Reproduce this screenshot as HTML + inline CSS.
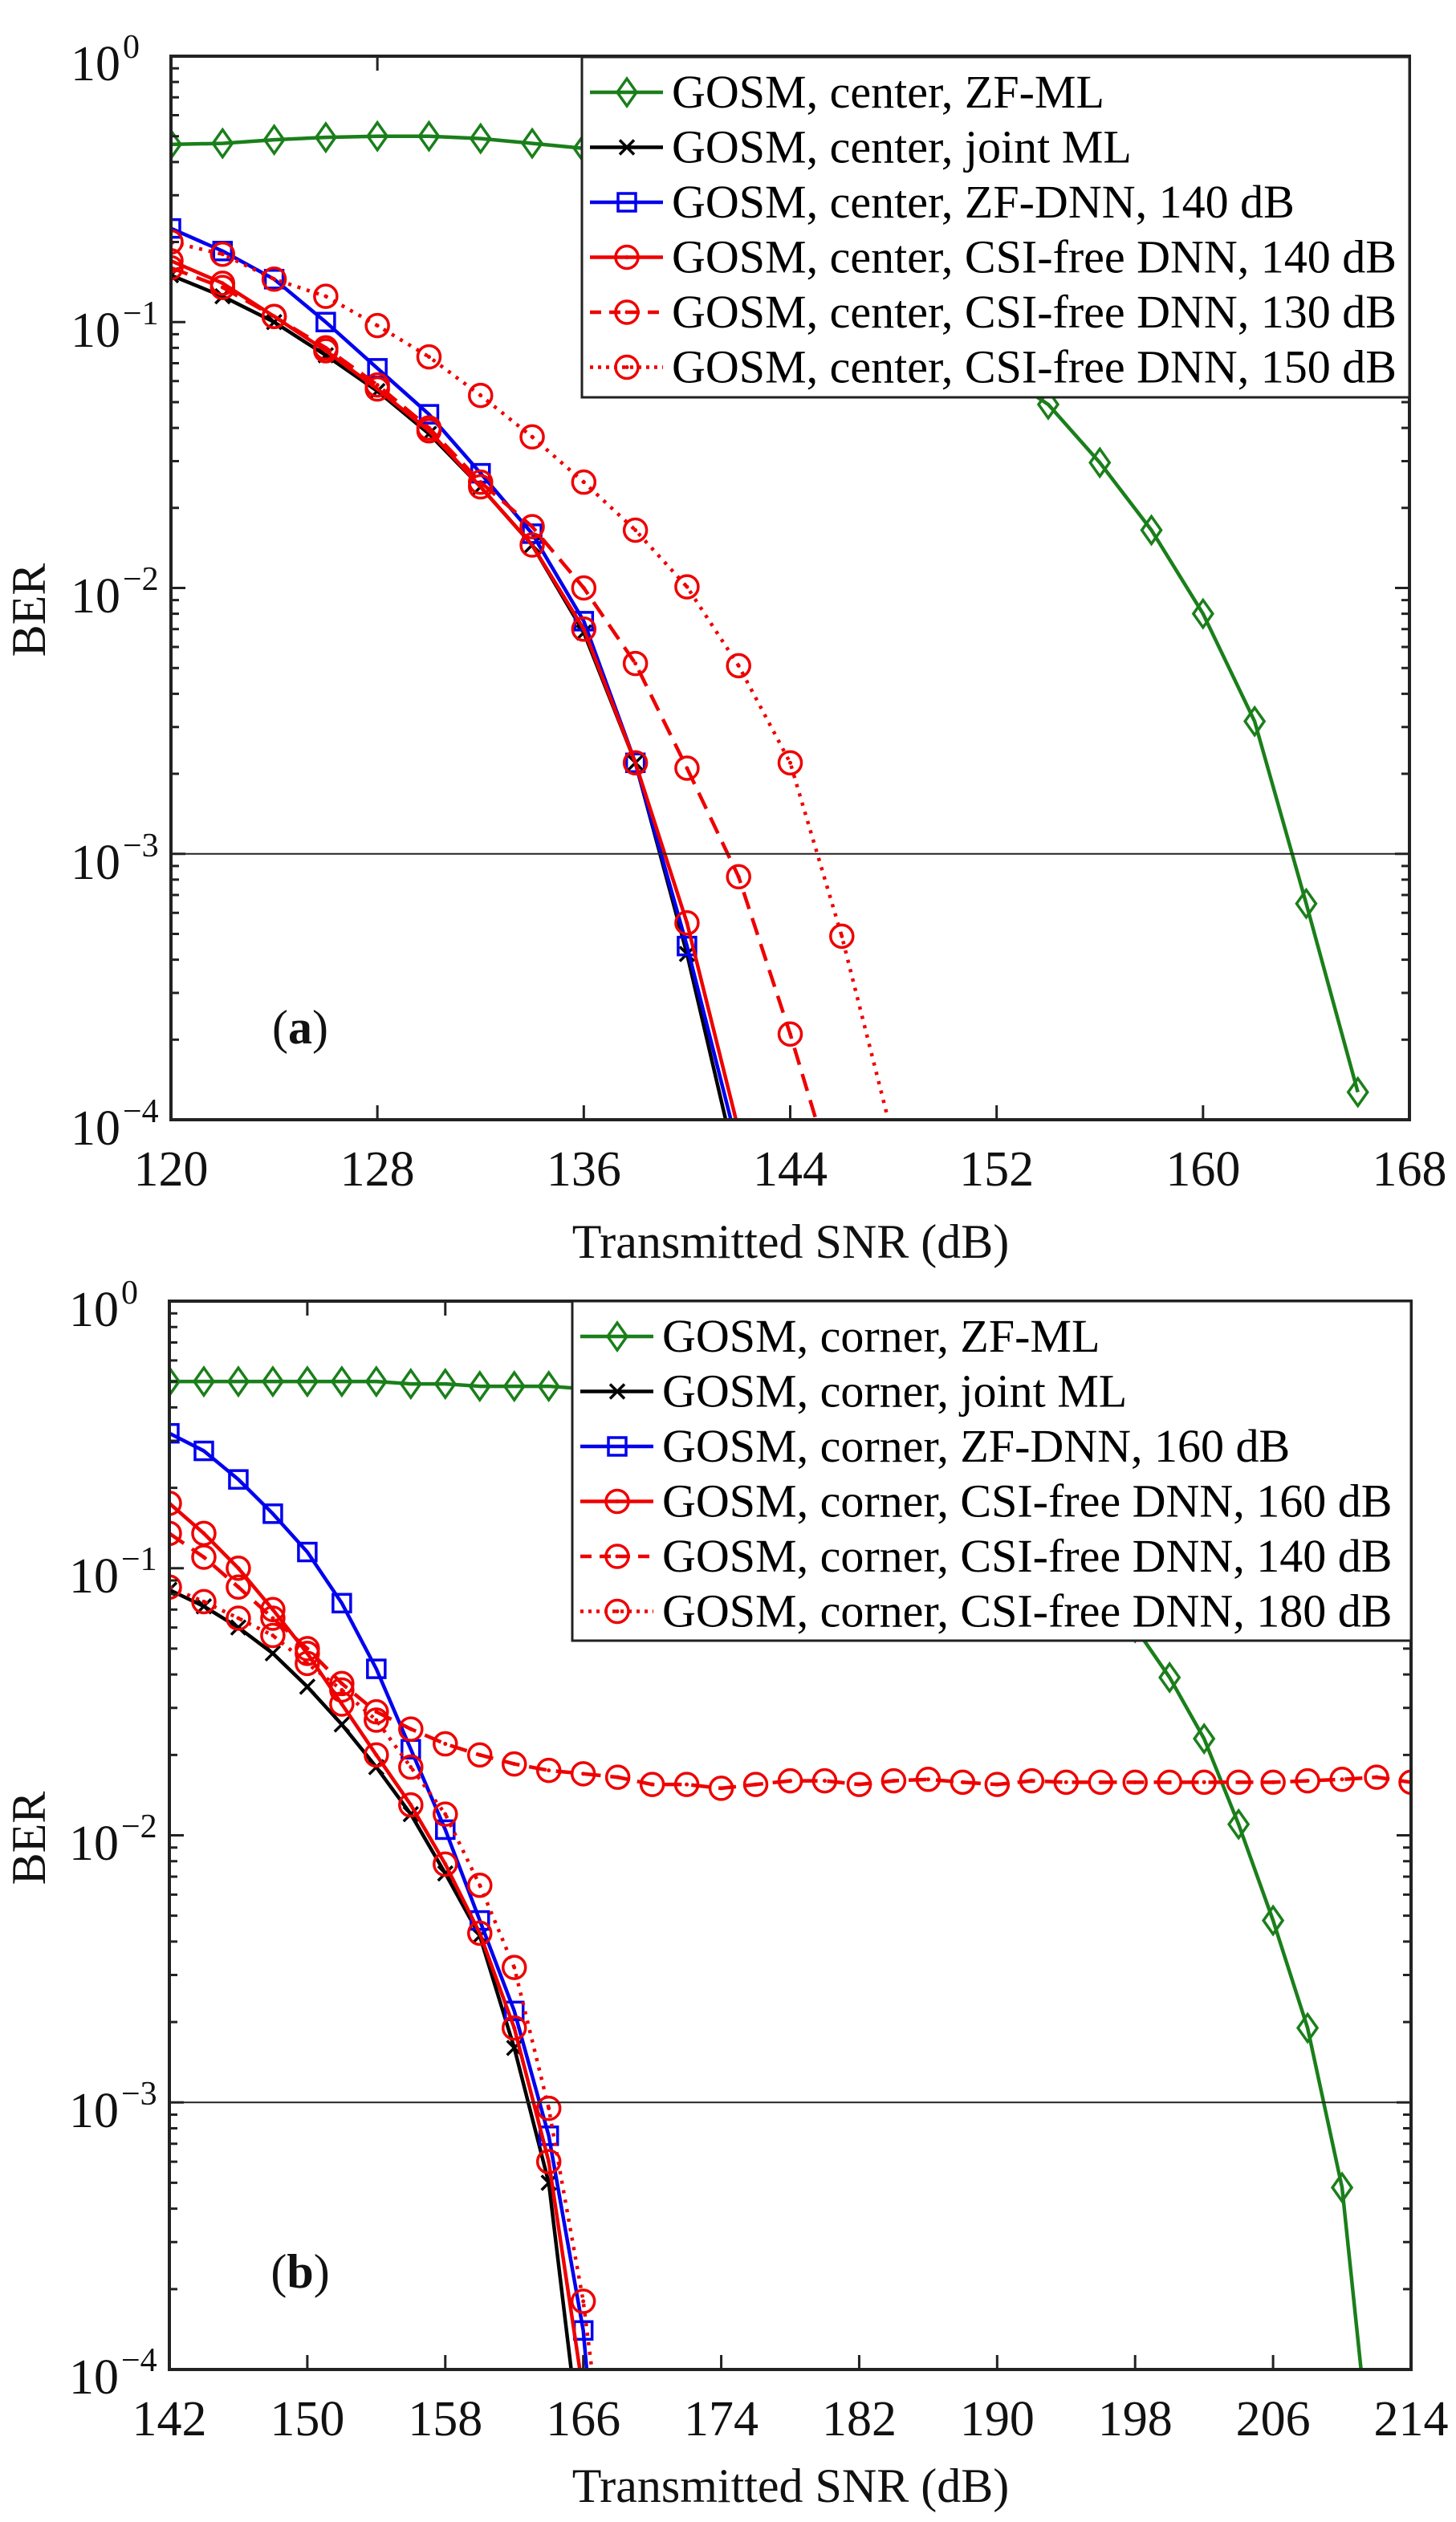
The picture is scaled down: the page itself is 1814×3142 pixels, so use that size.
<!DOCTYPE html>
<html><head><meta charset="utf-8"><style>
html,body{margin:0;padding:0;background:#fff;font-family:"Liberation Serif",serif;}
svg{display:block;}
text{font-family:"Liberation Serif","Times New Roman",serif;}
</style></head><body>
<svg id="s" width="1814" height="3142" viewBox="0 0 1814 3142" xmlns="http://www.w3.org/2000/svg" font-family="Liberation Serif, Times New Roman, serif">
<rect width="1814" height="3142" fill="#fff"/>
<defs>
<clipPath id="c1"><rect x="213" y="70" width="1543" height="1325"/></clipPath>
<clipPath id="c2"><rect x="211" y="1621" width="1547" height="1331"/></clipPath>
</defs>
<g id="g1" clip-path="url(#c1)"></g>
<g id="g2" clip-path="url(#c2)"></g>
<g id="ax"></g>
<g font-size="62" fill="#111">
<text x="150" y="100" text-anchor="end">10</text><text x="153" y="72" font-size="42">0</text>
<text x="150" y="432" text-anchor="end">10</text><text x="153" y="404" font-size="42">−1</text>
<text x="150" y="763" text-anchor="end">10</text><text x="153" y="735" font-size="42">−2</text>
<text x="150" y="1095" text-anchor="end">10</text><text x="153" y="1067" font-size="42">−3</text>
<text x="150" y="1426" text-anchor="end">10</text><text x="153" y="1398" font-size="42">−4</text>
</g>
<g font-size="62" fill="#111">
<text x="148" y="1652" text-anchor="end">10</text><text x="151" y="1624" font-size="42">0</text>
<text x="148" y="1984" text-anchor="end">10</text><text x="151" y="1956" font-size="42">−1</text>
<text x="148" y="2317" text-anchor="end">10</text><text x="151" y="2289" font-size="42">−2</text>
<text x="148" y="2650" text-anchor="end">10</text><text x="151" y="2622" font-size="42">−3</text>
<text x="148" y="2982" text-anchor="end">10</text><text x="151" y="2954" font-size="42">−4</text>
</g>
<g font-size="62" fill="#111" text-anchor="middle" id="xl"></g>
<g font-size="60" fill="#111" text-anchor="middle">
<text x="985" y="1567">Transmitted SNR (dB)</text>
<text x="985" y="3117">Transmitted SNR (dB)</text>
<text transform="translate(56,760) rotate(-90)">BER</text>
<text transform="translate(56,2290) rotate(-90)">BER</text>
<text x="374" y="1300">(<tspan font-weight="bold">a</tspan>)</text>
<text x="374" y="2850">(<tspan font-weight="bold">b</tspan>)</text>
</g>
<g id="leg"></g>
</svg>
<script>
const NS="http://www.w3.org/2000/svg";
function el(p,t,a){const e=document.createElementNS(NS,t);for(const k in a)e.setAttribute(k,a[k]);p.appendChild(e);return e;}
const ax=document.getElementById('ax');
function axes(L,R,T,B,x0,x1,step){
  const dec=(B-T)/4, sx=(R-L)/(x1-x0);
  const mx=v=>L+(v-x0)*sx, my=v=>T-Math.log10(v)*dec;
  el(ax,'line',{x1:L,x2:R,y1:my(1e-3),y2:my(1e-3),stroke:'#222','stroke-width':2});
  let d='';
  for(let v=x0;v<=x1;v+=step){const x=mx(v);d+=`M${x} ${B}v-18M${x} ${T}v18`;}
  for(let e=0;e<4;e++)for(let m=1;m<10;m++){const y=my(m*Math.pow(10,-e-1));const len=m==1?18:10;d+=`M${L} ${y}h${len}M${R} ${y}h${-len}`;}
  el(ax,'path',{d:d,stroke:'#222','stroke-width':3,fill:'none'});
  el(ax,'rect',{x:L,y:T,width:R-L,height:B-T,fill:'none',stroke:'#222','stroke-width':4});
  const xl=document.getElementById('xl');
  for(let v=x0;v<=x1;v+=step){const t=el(xl,'text',{x:mx(v),y:B+82});t.textContent=v;}
  return [mx,my];
}
function marker(g,type,x,y,col){
  const sw=3.5;
  if(type=='d')el(g,'path',{d:`M${x} ${y-17}L${x+12} ${y}L${x} ${y+17}L${x-12} ${y}Z`,fill:'none',stroke:col,'stroke-width':sw});
  else if(type=='s')el(g,'rect',{x:x-11,y:y-11,width:22,height:22,fill:'none',stroke:col,'stroke-width':sw});
  else if(type=='o'){el(g,'circle',{cx:x,cy:y,r:14,fill:'none',stroke:col,'stroke-width':sw});el(g,'circle',{cx:x,cy:y,r:2.5,fill:col});}
  else if(type=='x')el(g,'path',{d:`M${x-9} ${y-9}L${x+9} ${y+9}M${x-9} ${y+9}L${x+9} ${y-9}`,stroke:col,'stroke-width':sw});
}
function series(g,mx,my,xs,ys,end,col,type,dash){
  const pts=xs.map((x,i)=>[mx(x),my(ys[i])]);
  const all=pts.slice(); if(end)all.push([mx(end[0]),my(end[1])]);
  el(g,'polyline',{points:all.map(p=>p.join(',')).join(' '),fill:'none',stroke:col,'stroke-width':4.5,'stroke-dasharray':dash||'none','stroke-linejoin':'round'});
  pts.forEach(p=>marker(g,type,p[0],p[1],col));
}
const G='#1a7f1a',K='#000',B='#0000ee',Rd='#ee0000';
let [mx,my]=axes(213,1756,70,1395,120,168,8);
let g=document.getElementById('g1');
const r=(a,b,s=2)=>{const o=[];for(let v=a;v<=b;v+=s)o.push(v);return o;};
series(g,mx,my,r(120,166),[0.466,0.47,0.485,0.495,0.5,0.5,0.49,0.47,0.45,0.4,0.35,0.3,0.24,0.18,0.13,0.09,0.066,0.049,0.0296,0.0165,0.008,0.00315,0.00065,0.000127],null,G,'d');
series(g,mx,my,r(120,140),[0.15,0.125,0.1,0.075,0.055,0.038,0.024,0.0145,0.0068,0.0022,0.00042],[141.5,1e-4],K,'x');
series(g,mx,my,r(120,140),[0.225,0.185,0.145,0.1,0.067,0.045,0.027,0.016,0.0075,0.0022,0.00045],[141.7,1e-4],B,'s');
series(g,mx,my,r(120,140),[0.17,0.14,0.105,0.078,0.056,0.039,0.024,0.0145,0.007,0.0022,0.00055],[141.9,1e-4],Rd,'o');
series(g,mx,my,r(120,144),[0.16,0.135,0.105,0.08,0.058,0.04,0.025,0.017,0.01,0.0052,0.0021,0.00082,0.00021],[145,1e-4],Rd,'o','22 12');
series(g,mx,my,r(120,146),[0.2,0.18,0.145,0.125,0.097,0.074,0.053,0.037,0.025,0.0165,0.0101,0.0051,0.0022,0.00049],[147.8,1e-4],Rd,'o','4 8');
[mx,my]=axes(211,1758,1621,2952,142,214,8);
g=document.getElementById('g2');
series(g,mx,my,r(142,210),[0.5,0.5,0.5,0.5,0.5,0.5,0.5,0.49,0.49,0.48,0.48,0.48,
 0.47,0.46,0.45,0.44,0.42,0.40,0.37,0.34,0.31,0.27,0.23,0.19,0.155,0.125,0.1,0.08,0.06,
 0.039,0.023,0.011,0.0048,0.0019,0.00048],[211.1,1e-4],G,'d');
series(g,mx,my,r(142,164),[0.083,0.072,0.06,0.048,0.036,0.026,0.018,0.012,0.0072,0.0042,0.0016,0.0005],[165.3,1e-4],K,'x');
series(g,mx,my,r(142,166),[0.32,0.275,0.215,0.16,0.115,0.074,0.042,0.021,0.0105,0.0048,0.0022,0.00075,0.00014],[166.2,1e-4],B,'s');
series(g,mx,my,r(142,164),[0.175,0.135,0.1,0.07,0.048,0.031,0.02,0.013,0.0078,0.0043,0.0019,0.0006],[165.8,1e-4],Rd,'o');
series(g,mx,my,r(142,214),[0.135,0.11,0.085,0.065,0.05,0.037,0.029,0.025,0.022,0.02,0.0185,0.0175,0.017,0.0165,0.0155,0.0155,0.015,0.0155,0.016,0.016,0.0155,0.016,0.0162,0.0158,0.0155,0.016,0.0158,0.0158,0.0158,0.0158,0.0158,0.0158,0.0158,0.016,0.0162,0.0165,0.0158],null,Rd,'o','22 12');
series(g,mx,my,r(142,166),[0.085,0.075,0.065,0.056,0.044,0.035,0.027,0.018,0.012,0.0065,0.0032,0.00095,0.00018],[166.5,1e-4],Rd,'o','4 8');
const leg=document.getElementById('leg');
function legend(L,T,R,Bt,loc,ext){
  el(leg,'rect',{x:L,y:T,width:R-L,height:Bt-T,fill:'#fff',stroke:'#222','stroke-width':3});
  const items=[[G,'d',null,'ZF-ML'],[K,'x',null,'joint ML'],[B,'s',null,'ZF-DNN, '+ext[0]+' dB'],[Rd,'o',null,'CSI-free DNN, '+ext[0]+' dB'],[Rd,'o','14 10','CSI-free DNN, '+ext[1]+' dB'],[Rd,'o','4 6','CSI-free DNN, '+ext[2]+' dB']];
  items.forEach((it,i)=>{
    const y=T+44+i*68.5;
    el(leg,'line',{x1:L+10,x2:L+101,y1:y,y2:y,stroke:it[0],'stroke-width':4.5,'stroke-dasharray':it[2]||'none'});
    marker(leg,it[1],L+56,y,it[0]);
    const t=el(leg,'text',{x:L+112,y:y+19,'font-size':58,fill:'#000','font-family':'Liberation Serif, serif'});
    t.textContent='GOSM, '+loc+', '+it[3];
  });
}
legend(725,71,1756,495,'center',[140,130,150]);
legend(713,1621,1758,2044,'corner',[160,140,180]);
</script>
</body></html>
